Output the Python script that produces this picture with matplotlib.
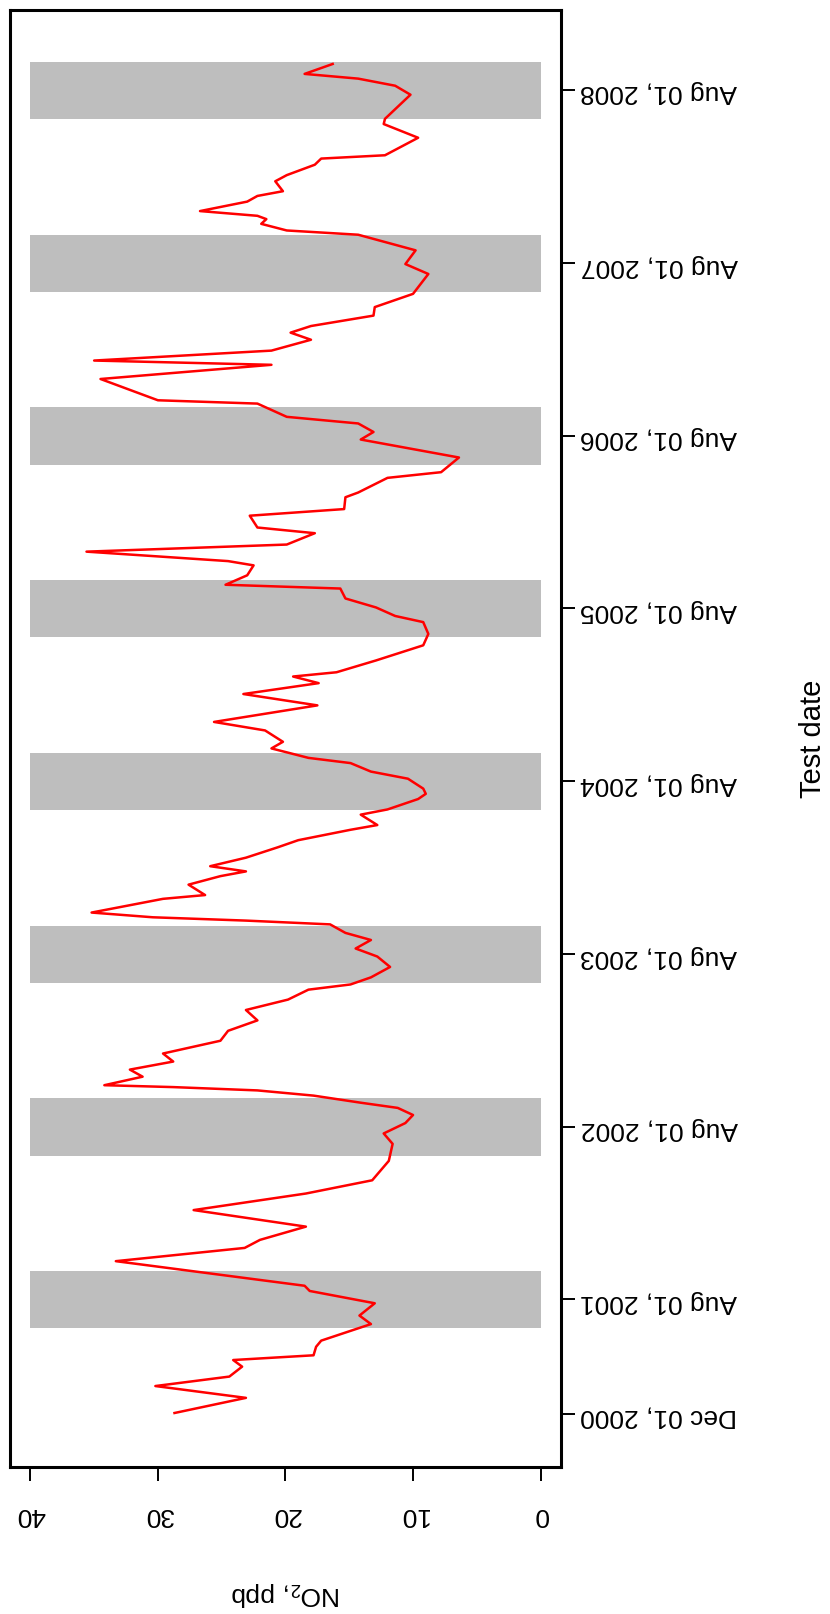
import pandas as pd
import matplotlib
matplotlib.use('Agg')
import matplotlib.pyplot as plt
import matplotlib.dates as mdates

plt.rcParams['font.family'] = ['Liberation Sans', 'DejaVu Sans']
plt.rcParams['mathtext.default'] = 'regular'

# smoothed NO2 series at the test site
test_dates = [
    '2000-12-04', '2001-01-05', '2001-01-30', '2001-02-19', '2001-03-12', '2001-03-26',
    '2001-04-05', '2001-04-23', '2001-05-06', '2001-06-10', '2001-06-28', '2001-07-24',
    '2001-08-19', '2001-08-30', '2001-10-21', '2001-11-18', '2001-12-05', '2002-01-02',
    '2002-02-06', '2002-03-13', '2002-04-10', '2002-05-21', '2002-06-26', '2002-07-18',
    '2002-08-09', '2002-08-26', '2002-09-10', '2002-09-21', '2002-10-06', '2002-10-17',
    '2002-10-24', '2002-10-28', '2002-11-15', '2002-11-30', '2002-12-17', '2003-01-03',
    '2003-01-30', '2003-02-20', '2003-03-14', '2003-04-05', '2003-04-27', '2003-05-18',
    '2003-05-29', '2003-06-13', '2003-07-05', '2003-07-27', '2003-08-13', '2003-08-31',
    '2003-09-15', '2003-10-03', '2003-10-11', '2003-10-18', '2003-10-28', '2003-11-13',
    '2003-11-26', '2003-12-04', '2003-12-26', '2004-01-13', '2004-01-23', '2004-02-03',
    '2004-02-21', '2004-03-14', '2004-03-29', '2004-04-20', '2004-04-30', '2004-05-22',
    '2004-06-02', '2004-06-24', '2004-07-05', '2004-07-16', '2004-08-06', '2004-08-21',
    '2004-09-08', '2004-09-19', '2004-10-09', '2004-10-23', '2004-11-16', '2004-12-04',
    '2005-01-08', '2005-02-01', '2005-02-24', '2005-03-10', '2005-03-19', '2005-04-13',
    '2005-05-15', '2005-06-08', '2005-07-03', '2005-07-16', '2005-08-03', '2005-08-22',
    '2005-09-12', '2005-09-20', '2005-10-10', '2005-10-31', '2005-11-09', '2005-11-29',
    '2005-12-14', '2006-01-07', '2006-01-19', '2006-02-13', '2006-02-27', '2006-03-24',
    '2006-04-03', '2006-05-04', '2006-05-16', '2006-06-16', '2006-07-24', '2006-08-09',
    '2006-08-27', '2006-09-10', '2006-10-08', '2006-10-15', '2006-11-29', '2006-12-29',
    '2007-01-07', '2007-01-28', '2007-02-20', '2007-03-07', '2007-03-21', '2007-04-12',
    '2007-04-30', '2007-05-28', '2007-07-09', '2007-07-30', '2007-08-28', '2007-09-30',
    '2007-10-09', '2007-10-23', '2007-11-02', '2007-11-09', '2007-11-19', '2007-12-09',
    '2007-12-21', '2007-12-31', '2008-01-21', '2008-02-03', '2008-02-25', '2008-03-09',
    '2008-03-16', '2008-04-22', '2008-05-21', '2008-06-01', '2008-07-22', '2008-08-10',
    '2008-08-25', '2008-09-04', '2008-09-25',
]
no2_ppb = [
    28.7, 23.1, 30.2, 24.4, 23.4, 24.1,
    17.8, 17.6, 17.2, 13.3, 14.2, 13.0,
    18.1, 18.5, 33.3, 23.2, 22.0, 18.4,
    27.2, 18.4, 13.2, 11.9, 11.6, 12.3,
    10.6, 10.0, 11.2, 14.1, 17.8, 22.2,
    28.8, 34.2, 31.2, 32.2, 28.8, 29.6,
    25.1, 24.5, 22.2, 23.1, 19.8, 18.2,
    14.9, 13.3, 11.8, 12.8, 14.5, 13.3,
    15.3, 16.5, 23.1, 30.4, 35.2, 32.1,
    29.6, 26.3, 27.6, 25.1, 23.1, 25.9,
    23.1, 20.6, 19.0, 14.9, 12.8, 14.1,
    12.0, 9.6, 9.0, 9.2, 10.4, 13.3,
    14.9, 18.2, 21.1, 20.2, 21.6, 25.6,
    17.5, 23.3, 17.4, 19.4, 16.0, 12.9,
    9.2, 8.8, 9.2, 11.4, 12.9, 15.3,
    15.7, 24.7, 23.0, 22.5, 24.5, 35.6,
    19.9, 17.7, 22.2, 22.8, 15.4, 15.3,
    14.3, 12.0, 7.8, 6.4, 14.1, 13.1,
    14.3, 19.9, 22.2, 30.0, 34.5, 21.1,
    35.0, 21.1, 18.0, 19.6, 18.0, 13.1,
    13.0, 10.0, 8.8, 10.6, 9.8, 14.3,
    19.9, 21.9, 21.5, 22.2, 26.7, 23.0,
    22.2, 20.2, 20.8, 19.9, 17.7, 17.2,
    12.2, 9.6, 12.3, 12.2, 10.2, 11.4,
    14.3, 18.5, 16.3,
]

# June-September shading for each year
summer_start = ['2001-06-01', '2002-06-01', '2003-06-01', '2004-06-01',
                '2005-06-01', '2006-06-01', '2007-06-01', '2008-06-01']
summer_end = ['2001-09-30', '2002-09-30', '2003-09-30', '2004-09-30',
              '2005-09-30', '2006-09-30', '2007-09-30', '2008-09-30']

tick_dates = ['2000-12-01', '2001-08-01', '2002-08-01', '2003-08-01', '2004-08-01',
              '2005-08-01', '2006-08-01', '2007-08-01', '2008-08-01']
no2_ticks = [0, 10, 20, 30, 40]

dates = pd.to_datetime(test_dates)
fs = 19

fig = plt.figure(figsize=(8.3, 16.14), dpi=100)
ax = fig.add_axes([0.012, 0.0911, 0.6639, 0.9027])

for s, e in zip(pd.to_datetime(summer_start), pd.to_datetime(summer_end)):
    ax.fill_betweenx([mdates.date2num(s), mdates.date2num(e)], 0, 40,
                     color='#bebebe', lw=0, zorder=1)

ax.plot(no2_ppb, dates, color='red', lw=1.8, solid_joinstyle='round', zorder=2)

# date range padded 4% like the value range (0-40)
lo = mdates.date2num(dates.min())
hi = mdates.date2num(dates.max())
pad = 0.04 * (hi - lo)
ax.set_ylim(lo - pad, hi + pad)
ax.set_xlim(41.6, -1.6)

ticks = pd.to_datetime(tick_dates)
ax.yaxis.tick_right()
ax.set_yticks(mdates.date2num(ticks))
ax.set_yticklabels([t.strftime('%b %d, %Y') for t in ticks], rotation=180)
ax.set_xticks(no2_ticks)
ax.set_xticklabels([str(t) for t in no2_ticks], rotation=180)
ax.tick_params(axis='y', direction='out', length=10, width=1.4, pad=4, labelsize=fs)
ax.tick_params(axis='x', direction='out', length=10, width=1.4, pad=16, labelsize=fs)

for sp in ax.spines.values():
    sp.set_linewidth(2.2)

ax.text(1.457, 0.5, 'Test date', transform=ax.transAxes, rotation=90,
        ha='center', va='center', fontsize=21)
ax.text(0.5, -0.0872, 'NO$_2$, ppb', transform=ax.transAxes, rotation=180,
        ha='center', va='center', fontsize=fs)

fig.savefig('out.png', dpi=100)
